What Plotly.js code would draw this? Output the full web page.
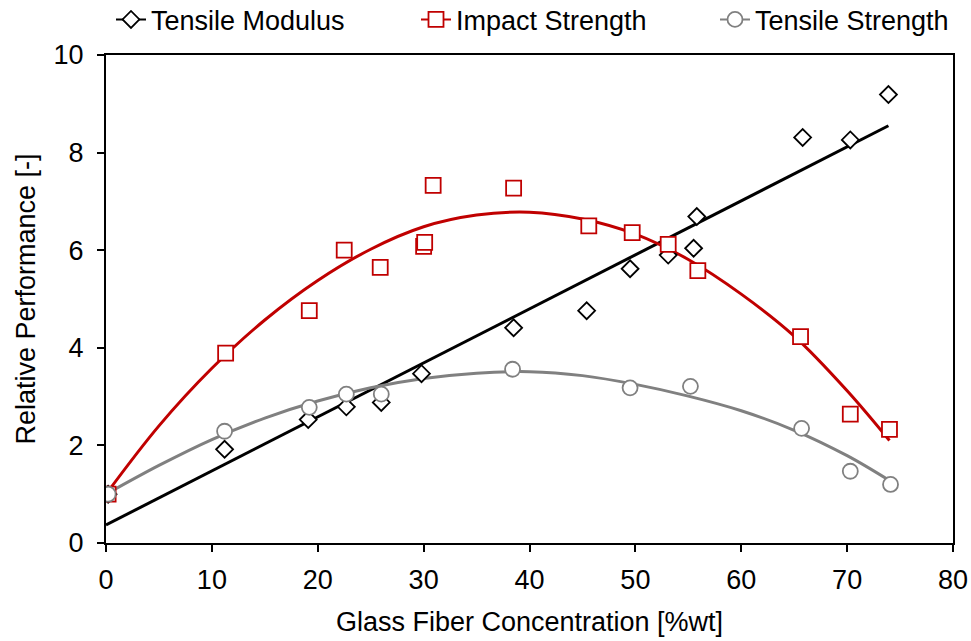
<!DOCTYPE html>
<html>
<head>
<meta charset="utf-8">
<script src="https://cdn.plot.ly/plotly-3.0.1.min.js"></script>
<style>
  html, body { margin: 0; padding: 0; background: #ffffff; }
  #chart { width: 971px; height: 641px; }
</style>
</head>
<body>
<div id="chart"></div>
<script>
// ---- Data ----
const seriesNames = ["Tensile Modulus", "Impact Strength", "Tensile Strength"];

const modulusX = [0.2, 11.2, 19.1, 22.7, 26.0, 29.8, 38.5, 45.4, 49.5, 53.1, 55.5, 55.8, 65.8, 70.3, 73.9];
const modulusY = [1.0, 1.92, 2.53, 2.79, 2.88, 3.47, 4.41, 4.76, 5.62, 5.90, 6.04, 6.69, 8.31, 8.26, 9.19];

const impactX = [0.2, 11.3, 19.2, 22.5, 25.9, 30.0, 30.1, 30.9, 38.5, 45.6, 49.7, 53.1, 55.9, 65.6, 70.3, 74.0];
const impactY = [1.0, 3.89, 4.76, 6.00, 5.65, 6.08, 6.16, 7.33, 7.27, 6.50, 6.36, 6.12, 5.58, 4.23, 2.64, 2.33];

const strengthX = [0.2, 11.2, 19.2, 22.7, 26.0, 38.4, 49.5, 55.2, 65.7, 70.3, 74.1];
const strengthY = [1.0, 2.29, 2.78, 3.05, 3.05, 3.56, 3.18, 3.21, 2.35, 1.47, 1.20];

// Trend lines
const modulusFitX = [0, 73.9];
const modulusFitY = [0.37, 8.55];

const impactFitX = [0, 5, 10, 15, 20, 25, 30, 35, 40, 45, 50, 55, 60, 65, 70, 74];
const impactFitY = [1.0, 2.40, 3.58, 4.57, 5.38, 6.02, 6.48, 6.72, 6.78, 6.64, 6.33, 5.81, 5.10, 4.24, 3.12, 2.10];

const strengthFitX = [0, 5, 10, 15, 20, 25, 30, 35, 40, 45, 50, 55, 60, 65, 70, 74];
const strengthFitY = [1.0, 1.59, 2.12, 2.56, 2.91, 3.18, 3.37, 3.48, 3.51, 3.43, 3.25, 3.01, 2.71, 2.31, 1.79, 1.28];

const xTicks = [0, 10, 20, 30, 40, 50, 60, 70, 80];
const yTicks = [0, 2, 4, 6, 8, 10];

// ---- Styles ----
const BLACK = "#000000", RED = "#C00000", GRAY = "#808080";
const FONT = "Arial, 'Liberation Sans', sans-serif";
const FS = 27;

// interleave nulls so each point stands alone (legend still shows line + marker)
function isolate(arr) {
  const out = [];
  arr.forEach((v, i) => { out.push(v); if (i < arr.length - 1) out.push(null); });
  return out;
}

function fitTrace(x, y, color, shape) {
  return {
    x: x, y: y, type: "scatter", mode: "lines",
    line: { color: color, width: 3, shape: shape, smoothing: 1 },
    showlegend: false, hoverinfo: "skip"
  };
}

function markerTrace(name, x, y, color, symbol, size, legendId) {
  return {
    name: name, x: isolate(x), y: isolate(y), type: "scatter", mode: "lines+markers",
    connectgaps: false, legend: legendId,
    line: { color: color, width: 2 },
    marker: { symbol: symbol, size: size, color: "#ffffff", line: { color: color, width: 1.8 } }
  };
}

const data = [
  fitTrace(modulusFitX, modulusFitY, BLACK, "linear"),
  fitTrace(impactFitX, impactFitY, RED, "spline"),
  fitTrace(strengthFitX, strengthFitY, GRAY, "spline"),
  markerTrace(seriesNames[0], modulusX, modulusY, BLACK, "diamond", 13, "legend"),
  markerTrace(seriesNames[1], impactX, impactY, RED, "square", 15, "legend2"),
  markerTrace(seriesNames[2], strengthX, strengthY, GRAY, "circle", 15, "legend3")
];

function legendBox(x) {
  return {
    orientation: "h", x: x, xanchor: "left", xref: "container",
    y: 0.969, yanchor: "middle", yref: "container",
    font: { family: FONT, size: FS, color: "#000000" },
    itemwidth: 30, bgcolor: "rgba(0,0,0,0)"
  };
}

const layout = {
  width: 971, height: 641,
  margin: { l: 106, r: 18, t: 55, b: 98 },
  paper_bgcolor: "#ffffff", plot_bgcolor: "#ffffff",
  font: { family: FONT, size: FS, color: "#000000" },
  showlegend: true,
  legend: legendBox(111 / 971),
  legend2: legendBox(416 / 971),
  legend3: legendBox(715 / 971),
  xaxis: {
    range: [0, 80], tickvals: xTicks, ticktext: xTicks.map(String),
    ticks: "outside", ticklen: 7, tickwidth: 2, tickcolor: "#000000",
    ticklabelstandoff: 5,
    showline: true, linewidth: 2, linecolor: "#000000", mirror: true,
    showgrid: false, zeroline: false,
    tickfont: { family: FONT, size: FS, color: "#000000" },
    title: { text: "Glass Fiber Concentration [%wt]", font: { family: FONT, size: FS, color: "#000000" }, standoff: 18 }
  },
  yaxis: {
    range: [0, 10], tickvals: yTicks, ticktext: yTicks.map(String),
    ticks: "outside", ticklen: 7, tickwidth: 2, tickcolor: "#000000",
    ticklabelstandoff: 8,
    showline: true, linewidth: 2, linecolor: "#000000", mirror: true,
    showgrid: false, zeroline: false,
    tickfont: { family: FONT, size: FS, color: "#000000" },
    title: { text: "Relative Performance [-]", font: { family: FONT, size: FS, color: "#000000" }, standoff: 10 }
  }
};

Plotly.newPlot("chart", data, layout, { displayModeBar: false, staticPlot: true });
</script>
</body>
</html>
